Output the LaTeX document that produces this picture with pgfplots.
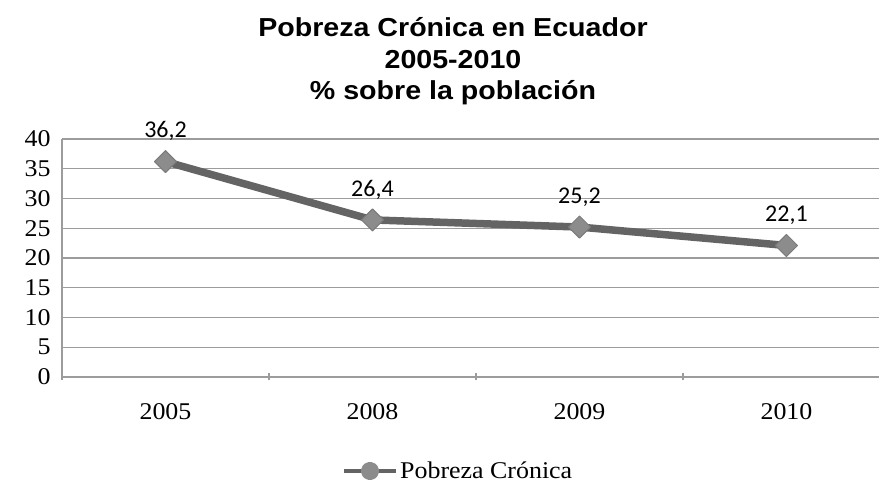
\documentclass[border=0pt]{standalone}
\usepackage{fontspec}
\setmainfont[FakeStretch=1.08]{Liberation Serif}
\newfontfamily\titlefont[FakeStretch=1.1]{Liberation Sans}
\newfontfamily\labfont{Carlito}
\usepackage{pgfplots}
\pgfplotsset{compat=1.18}
\definecolor{gridgray}{HTML}{9C9C9C}
\definecolor{ln}{HTML}{646464}
\definecolor{mk}{HTML}{8C8C8C}
\begin{document}
\begin{tikzpicture}[x=1pt,y=1pt]
\path[use as bounding box] (0,0) rectangle (879,486);
\node[font=\titlefont\bfseries\fontsize{26}{28}\selectfont] at (453,459) {Pobreza Crónica en Ecuador};
\node[font=\titlefont\bfseries\fontsize{26}{28}\selectfont] at (453,426) {2005-2010};
\node[font=\titlefont\bfseries\fontsize{26}{28}\selectfont] at (453,393) {\% sobre la población};
\begin{axis}[
  scale only axis,
  width=817pt, height=238pt,
  at={(62pt,109pt)}, anchor=south west,
  xmin=-0.5, xmax=3.447,
  ymin=0, ymax=40,
  ytick={0,5,...,40},
  xtick={0,1,2,3},
  xticklabels={2005,2008,2009,2010},
  minor xtick={-0.5,0.5,1.5,2.5},
  major x tick style={draw=none},
  minor tick length=7pt,
  minor x tick style={draw=gridgray, line width=1.3pt, yshift=-3.5pt},
  ytick style={draw=gridgray, line width=1.3pt},
  major tick length=8pt,
  ymajorgrids,
  grid style={draw=gridgray, line width=1.4pt},
  axis x line*=bottom,
  axis y line*=left,
  axis line style={draw=gridgray, line width=1.5pt, -},
  tick label style={font=\fontsize{24}{25}\selectfont},
  /pgf/number format/assume math mode=true,
  xticklabel style={yshift=-23pt},
  yticklabel style={xshift=-8pt},
  clip=false,
  legend style={at={(0.4847,-0.395)}, anchor=center, draw=none, fill=none,
    font=\fontsize{24}{25}\selectfont, inner sep=0pt},
  legend image code/.code={
    \draw[ln, line width=4.5pt] (0pt,0pt) -- (52pt,0pt);
    \fill[mk] (26pt,0pt) circle (5.5pt);},
]
\addplot[ln, line width=7.5pt, line join=round,
  mark=square*, mark size=7.8pt,
  mark options={fill=mk, draw=ln!85, line width=1pt, rotate=45},
  nodes near coords,
  point meta=explicit symbolic,
  every node near coord/.append style={font=\labfont\fontsize{24}{25}\selectfont, text=black, anchor=south, yshift=17pt},
] coordinates {(0,36.2)[36,2] (1,26.4)[26,4] (2,25.2)[25,2] (3,22.1)[22,1]};
\addlegendentry{Pobreza Crónica}
\end{axis}
\end{tikzpicture}
\end{document}
